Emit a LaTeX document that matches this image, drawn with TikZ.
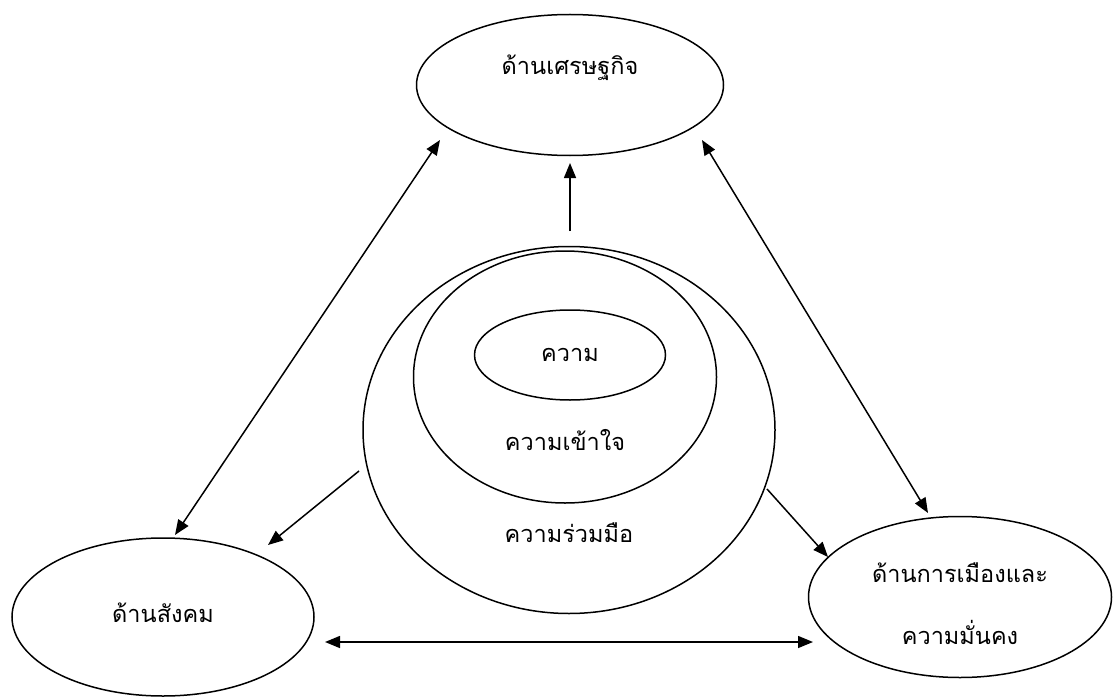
\documentclass[tikz,border=0pt]{standalone}
\usepackage{fontspec}
\newfontfamily\thaifont[Script=Thai]{Loma}
\usetikzlibrary{arrows.meta,shapes.geometric}

\begin{document}
\begin{tikzpicture}[x=1pt,y=-1pt,>={Triangle[length=15pt,width=12pt]},
    area/.style={draw,ellipse,line width=1.5pt,inner sep=0pt},
    word/.style={font=\thaifont\fontsize{23.5}{28}\selectfont,align=center},
    link/.style={line width=1.5pt}]
  \useasboundingbox (0,0) rectangle (1113,698);

  % the three sides
  \node[area,minimum width=307pt,minimum height=141pt] (econ)   at (570,85)  {};
  \node[area,minimum width=302pt,minimum height=158pt] (social) at (163,617) {};
  \node[area,minimum width=303pt,minimum height=161pt] (polit)  at (960,597) {};

  % the core, one ring inside another
  \node[area,minimum width=412pt,minimum height=367pt] (coop)  at (569,430) {};
  \node[area,minimum width=303pt,minimum height=252pt] (under) at (565,377) {};
  \node[area,minimum width=191pt,minimum height=90pt]  (know)  at (570,355) {};

  \node[word] (econtxt)   at (570,68)  {ด้านเศรษฐกิจ};
  \node[word] (socialtxt) at (163,613) {ด้านสังคม};
  \node[word] (polittxt)  at (960,604) {ด้านการเมืองและ\\[34pt]ความมั่นคง};
  \node[word] (knowtxt)   at (570,355) {ความ};
  \node[word] (undertxt)  at (565,440) {ความเข้าใจ};
  \node[word] (cooptxt)   at (569,533) {ความร่วมมือ};

  % arrow ends
  \coordinate (econL)   at (440,140);
  \coordinate (econR)   at (702,140);
  \coordinate (econB)   at (570,163);
  \coordinate (coopT)   at (570,231);
  \coordinate (coopL)   at (359,471);
  \coordinate (coopR)   at (767,489);
  \coordinate (socialT) at (175,535);
  \coordinate (socialR) at (268,545);
  \coordinate (socialB) at (325,642);
  \coordinate (politT)  at (928,513);
  \coordinate (politL)  at (828,557);
  \coordinate (politB)  at (813,642);

  \draw[link,->]  (coopT) -- (econB);
  \draw[link,<->] (econL) -- (socialT);
  \draw[link,<->] (econR) -- (politT);
  \draw[link,->]  (coopL) -- (socialR);
  \draw[link,->]  (coopR) -- (politL);
  \draw[link,<->] (socialB) -- (politB);
\end{tikzpicture}
\end{document}
